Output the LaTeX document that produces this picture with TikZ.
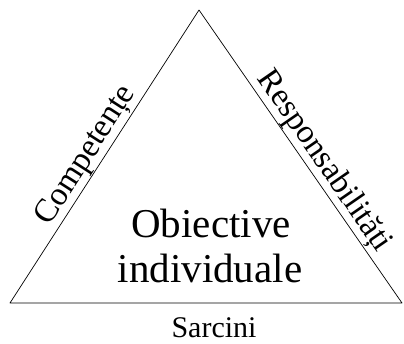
\documentclass[tikz,border=0pt]{standalone}
\usepackage{fontspec}
\setmainfont{Liberation Serif}
\usetikzlibrary{calc}
\begin{document}
\begin{tikzpicture}[x=1pt,y=1pt,
  edge/.style={draw=black, line width=0.7pt, line join=round},
  sidelabel/.style={font=\fontsize{33}{38}\selectfont, anchor=south, inner sep=1pt},
  centerlabel/.style={font=\fontsize{41}{45}\selectfont, align=center, inner sep=0pt},
  baselabel/.style={font=\fontsize{30}{34}\selectfont, inner sep=0pt}]
\useasboundingbox (0,0) rectangle (404,343);
\coordinate (apex) at (199,333);
\coordinate (bl) at (10,40);
\coordinate (br) at (402,40);
\draw[edge] (bl) -- (apex) -- (br) -- cycle;
\node[sidelabel, rotate=57.2] (comp) at ($(bl)!0.473!(apex)$) {Competențe};
\node[sidelabel, rotate=-55.3] (resp) at ($(apex)!0.548!(br)$) {Responsabilități};
\node[centerlabel, anchor=base] (obj1) at (211,106) {Obiective};
\node[centerlabel, anchor=base] (obj2) at (210,61) {individuale};
\node[baselabel, anchor=base] (sarc) at (214,6) {Sarcini};
\end{tikzpicture}
\end{document}
